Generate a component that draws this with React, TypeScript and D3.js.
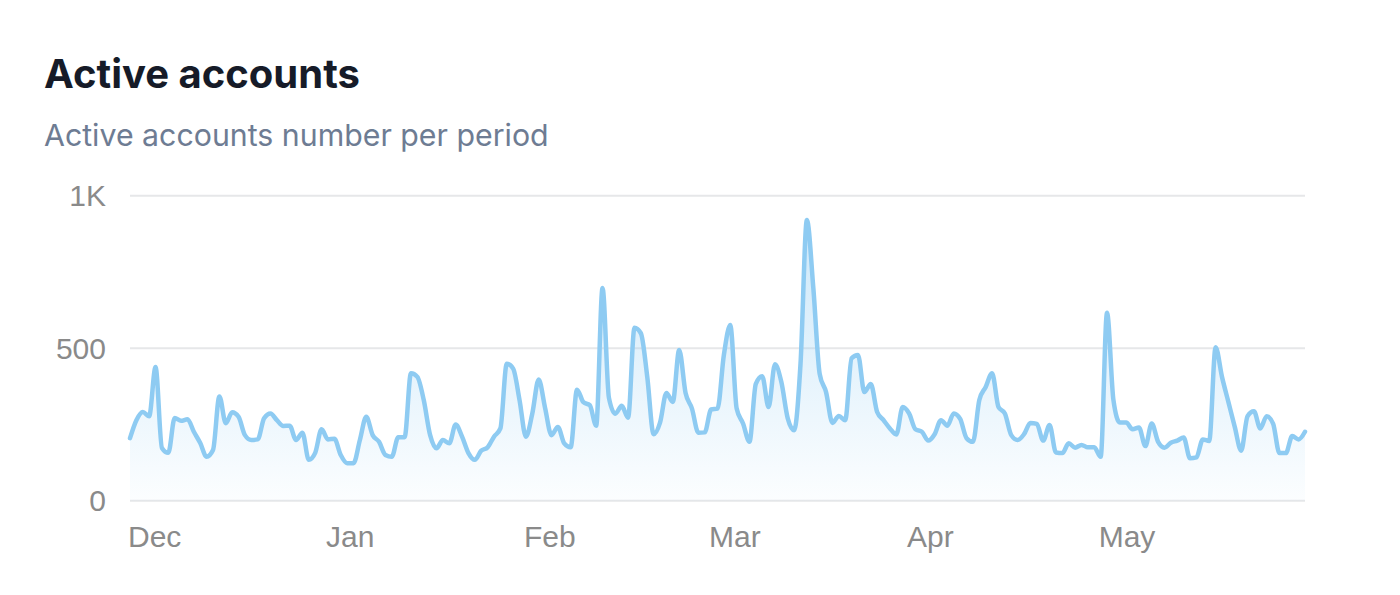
import React from "react";
import * as d3 from "d3";

const startDate = new Date(2023, 11, 1);
const activeAccounts: number[] = [
  205, 264, 291, 277, 438, 173, 157, 271, 262, 267,
  226, 189, 144, 166, 342, 254, 290, 275, 215, 199,
  201, 270, 286, 264, 245, 246, 199, 223, 134, 157,
  234, 201, 203, 150, 123, 123, 199, 275, 215, 193,
  150, 144, 208, 208, 418, 406, 330, 215, 172, 199,
  188, 250, 210, 156, 134, 164, 175, 210, 237, 449,
  433, 330, 210, 286, 397, 304, 215, 242, 188, 175,
  364, 323, 313, 246, 697, 337, 285, 311, 272, 567,
  549, 406, 218, 256, 353, 324, 494, 353, 302, 223,
  224, 299, 302, 478, 576, 302, 253, 193, 383, 408,
  307, 447, 389, 270, 231, 449, 920, 699, 416, 356,
  255, 278, 264, 467, 478, 356, 383, 291, 264, 237,
  217, 307, 286, 234, 226, 197, 218, 264, 246, 286,
  268, 205, 193, 330, 373, 418, 307, 286, 215, 199,
  218, 255, 252, 197, 248, 158, 156, 188, 174, 183,
  175, 175, 144, 616, 330, 256, 256, 234, 240, 179,
  253, 193, 174, 190, 197, 207, 139, 142, 201, 196,
  503, 406, 324, 242, 164, 277, 293, 237, 277, 253,
  156, 156, 212, 201, 226,
];
const yTicks = [0, 500, 1000];
const yTickLabels = ["0", "500", "1K"];
const monthTicks = [
  new Date(2023, 11, 1),
  new Date(2024, 0, 1),
  new Date(2024, 1, 1),
  new Date(2024, 2, 1),
  new Date(2024, 3, 1),
  new Date(2024, 4, 1),
];
const monthLabels = ["Dec", "Jan", "Feb", "Mar", "Apr", "May"];

const title = "Active accounts";
const subtitle = "Active accounts number per period";

type Pt = { date: Date; value: number };
const data: Pt[] = activeAccounts.map((v, i) => ({
  date: d3.timeDay.offset(startDate, i),
  value: v,
}));

export default function App() {
  const W = 1400;
  const H = 595;
  const left = 130;
  const right = 1305;
  const top = 195.7;
  const bottom = 500.7;

  const x = d3
    .scaleTime()
    .domain([data[0].date, data[data.length - 1].date])
    .range([left, right]);
  const y = d3.scaleLinear().domain([0, 1000]).range([bottom, top]);

  const line = d3
    .line<Pt>()
    .x((d) => x(d.date))
    .y((d) => y(d.value))
    .curve(d3.curveMonotoneX);
  const area = d3
    .area<Pt>()
    .x((d) => x(d.date))
    .y0(y(0))
    .y1((d) => y(d.value))
    .curve(d3.curveMonotoneX);

  const axisFont = "'Liberation Sans', Arial, Helvetica, sans-serif";
  const titleFont = "Inter, 'Noto Sans', sans-serif";

  return (
    <div style={{ position: "absolute", left: 0, top: 0 }}>
      <svg width={W} height={H} style={{ display: "block", background: "#fff" }}>
        <defs>
          <linearGradient id="fillGrad" x1="0" y1="0" x2="0" y2="1">
            <stop offset="0%" stopColor="#8ecbf2" stopOpacity={0.45} />
            <stop offset="100%" stopColor="#8ecbf2" stopOpacity={0.03} />
          </linearGradient>
        </defs>
        <text
          x={44}
          y={88}
          fontFamily={titleFont}
          fontWeight={700}
          fontSize={40}
          fill="#161b28"
        >
          {title}
        </text>
        <text
          x={44}
          y={146}
          fontFamily={titleFont}
          fontWeight={400}
          fontSize={30.3}
          fill="#6e7c93"
        >
          {subtitle}
        </text>
        {yTicks.map((t, i) => (
          <g key={t}>
            <line
              x1={left}
              x2={right}
              y1={y(t)}
              y2={y(t)}
              stroke="#e6e7e9"
              strokeWidth={2}
            />
            <text
              x={106}
              y={y(t)}
              dy="0.35em"
              textAnchor="end"
              fontFamily={axisFont}
              fontSize={30}
              fill="#8a8a8a"
            >
              {yTickLabels[i]}
            </text>
          </g>
        ))}
        <path d={area(data) || ""} fill="url(#fillGrad)" />
        <path
          d={line(data) || ""}
          fill="none"
          stroke="#8ecbf2"
          strokeWidth={4.5}
          strokeLinejoin="round"
          strokeLinecap="round"
        />
        {monthTicks.map((m, i) => (
          <text
            key={i}
            x={x(m) - 2}
            y={547}
            fontFamily={axisFont}
            fontSize={30}
            fill="#8a8a8a"
          >
            {monthLabels[i]}
          </text>
        ))}
      </svg>
    </div>
  );
}
